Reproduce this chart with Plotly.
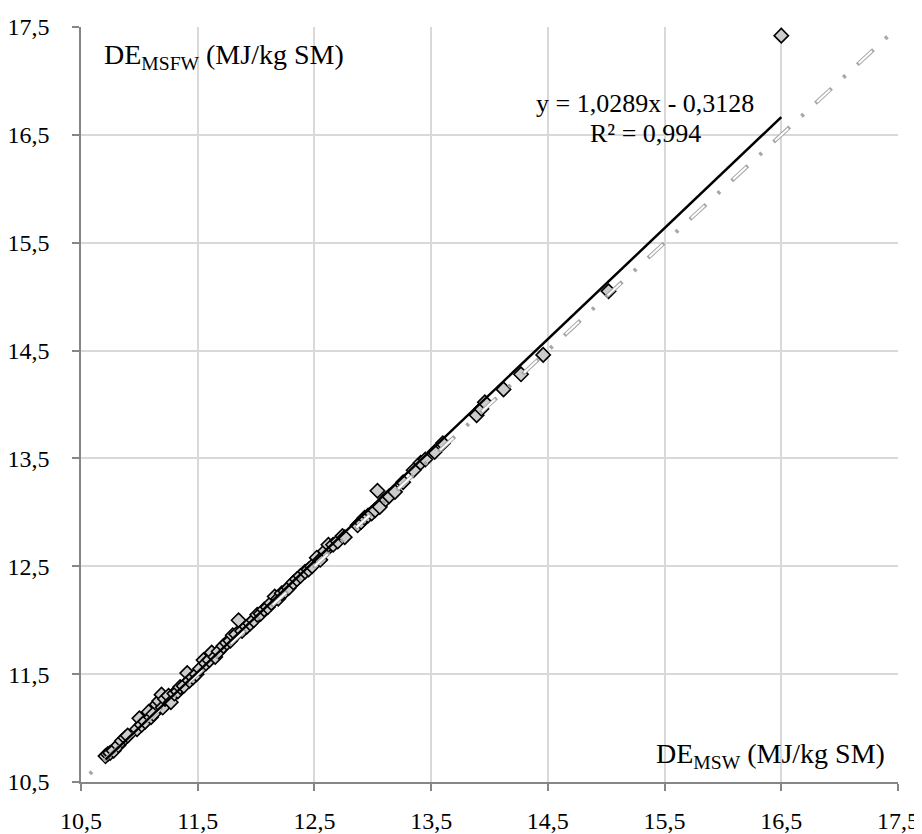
import plotly.graph_objects as go

# DE_MSW (x) vs DE_MSFW (y), MJ/kg SM
x_msw = [10.71, 10.73, 10.75, 10.78, 10.82, 10.85, 10.88, 10.90, 10.98, 11.00,
         11.02, 11.05, 11.08, 11.10, 11.12, 11.15, 11.17, 11.19, 11.20, 11.22,
         11.25, 11.27, 11.30, 11.33, 11.35, 11.38, 11.41, 11.43, 11.46, 11.49,
         11.52, 11.55, 11.57, 11.60, 11.62, 11.65, 11.68, 11.72, 11.75, 11.78,
         11.80, 11.83, 11.85, 11.88, 11.92, 11.95, 11.98, 12.01, 12.04, 12.07,
         12.10, 12.13, 12.16, 12.19, 12.22, 12.25, 12.28, 12.32, 12.35, 12.38,
         12.42, 12.45, 12.48, 12.52, 12.55, 12.59, 12.62, 12.66, 12.70, 12.74,
         12.76, 12.87, 12.90, 12.93, 12.96, 12.99, 13.02, 13.04, 13.06, 13.11,
         13.14, 13.19, 13.26, 13.35, 13.41, 13.45, 13.53, 13.60, 13.89, 13.93,
         13.96, 14.12, 14.27, 14.46, 15.02, 16.50]
y_msfw = [10.74, 10.76, 10.77, 10.79, 10.84, 10.88, 10.91, 10.93, 10.99, 11.09,
          11.03, 11.06, 11.15, 11.10, 11.13, 11.22, 11.25, 11.31, 11.19, 11.27,
          11.30, 11.24, 11.32, 11.34, 11.38, 11.39, 11.51, 11.44, 11.47, 11.50,
          11.55, 11.63, 11.60, 11.63, 11.70, 11.66, 11.71, 11.76, 11.79, 11.81,
          11.86, 11.87, 12.00, 11.90, 11.94, 11.97, 12.00, 12.05, 12.06, 12.10,
          12.12, 12.16, 12.22, 12.20, 12.25, 12.27, 12.30, 12.35, 12.38, 12.41,
          12.45, 12.47, 12.50, 12.58, 12.56, 12.64, 12.70, 12.70, 12.73, 12.78,
          12.77, 12.88, 12.91, 12.95, 12.97, 12.99, 13.02, 13.20, 13.05, 13.12,
          13.15, 13.19, 13.28, 13.39, 13.46, 13.49, 13.56, 13.64, 13.90, 13.96,
          14.02, 14.14, 14.28, 14.46, 15.05, 17.42]

slope, intercept = 1.0289, -0.3128
identity_range = [10.5, 17.5]
tick_vals = [10.5, 11.5, 12.5, 13.5, 14.5, 15.5, 16.5, 17.5]
tick_text = ["10,5", "11,5", "12,5", "13,5", "14,5", "15,5", "16,5", "17,5"]

FONT = "Liberation Serif"

fig = go.Figure()

fig.add_trace(go.Scatter(
    x=x_msw, y=y_msfw, mode="markers",
    marker=dict(symbol="diamond", size=11, color="#cccccc",
                line=dict(color="black", width=1.6)),
    hoverinfo="x+y", showlegend=False))

# 1:1 line (outlined dash + dot)
fig.add_trace(go.Scatter(
    x=identity_range, y=identity_range, mode="lines",
    line=dict(color="#a6a6a6", width=4, dash="0px,12px,3px,16px,22px,4px"),
    hoverinfo="skip", showlegend=False))
fig.add_trace(go.Scatter(
    x=identity_range, y=identity_range, mode="lines",
    line=dict(color="white", width=2, dash="0px,33px,18px,6px"),
    hoverinfo="skip", showlegend=False))

# linear trendline
xt = [min(x_msw), max(x_msw)]
yt = [slope * v + intercept for v in xt]
fig.add_trace(go.Scatter(
    x=xt, y=yt, mode="lines", line=dict(color="black", width=2.5),
    hoverinfo="skip", showlegend=False))

axis_common = dict(
    range=[10.5, 17.5], tickvals=tick_vals, ticktext=tick_text,
    showgrid=True, gridcolor="#d9d9d9", gridwidth=1.5,
    showline=True, linecolor="#868686", linewidth=1.5,
    ticks="outside", ticklen=7, tickcolor="#868686", tickwidth=1.5,
    zeroline=False, tickfont=dict(family=FONT, size=24, color="black"),
    fixedrange=True, automargin=False,
)

# page body adds an 8px offset; figure is sized to fit the window
fig.update_layout(
    width=914, height=826,
    margin=dict(l=73, r=24, t=19, b=52),
    paper_bgcolor="white", plot_bgcolor="white",
    font=dict(family=FONT, color="black"),
    xaxis=dict(**axis_common, ticklabelstandoff=9),
    yaxis=dict(**axis_common, ticklabelstandoff=18),
    annotations=[
        dict(x=10.68, y=17.225, xref="x", yref="y", xanchor="left", yanchor="middle",
             text="DE<sub>MSFW</sub> (MJ/kg SM)", showarrow=False,
             font=dict(family=FONT, size=28, color="black")),
        dict(x=17.407, y=10.75, xref="x", yref="y", xanchor="right", yanchor="middle",
             text="DE<sub>MSW</sub> (MJ/kg SM)", showarrow=False,
             font=dict(family=FONT, size=28, color="black")),
        dict(x=15.333, y=16.79, xref="x", yref="y", xanchor="center", yanchor="middle",
             text="y = 1,0289x - 0,3128", showarrow=False,
             font=dict(family=FONT, size=26, color="black")),
        dict(x=15.333, y=16.51, xref="x", yref="y", xanchor="center", yanchor="middle",
             text="R² = 0,994", showarrow=False,
             font=dict(family=FONT, size=26, color="black")),
    ],
)

fig.write_html("out.html")
